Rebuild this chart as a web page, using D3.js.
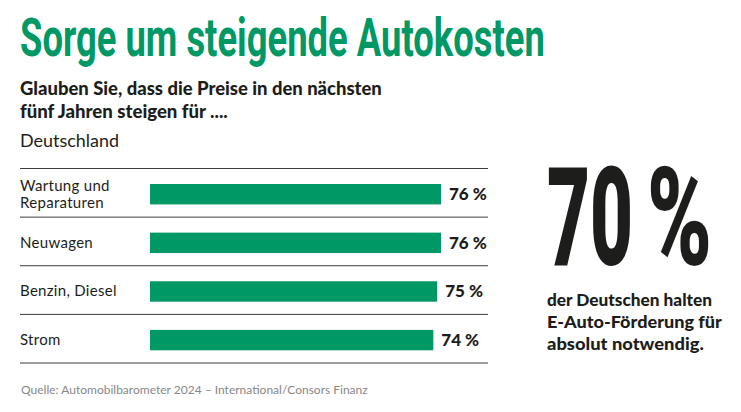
<!DOCTYPE html>
<html>
<head>
<meta charset="utf-8">
<script src="https://cdn.jsdelivr.net/npm/d3@7"></script>
<style>
  html, body { margin: 0; padding: 0; background: #fff; }
  svg { display: block; }
  text { font-family: Lato, "Noto Sans", sans-serif; fill: #1d1d1b; }
</style>
</head>
<body>
<div id="chart-area"></div>
<script>
// Daten
var categories = ["Wartung und|Reparaturen", "Neuwagen", "Benzin, Diesel", "Strom"];
var values = [76, 76, 75, 74];
var valueLabels = ["76 %", "76 %", "75 %", "74 %"];
var subtitleLines = ["Glauben Sie, dass die Preise in den nächsten", "fünf Jahren steigen für ...."];
var calloutLines = ["der Deutschen halten", "E-Auto-Förderung für", "absolut notwendig."];
var calloutWidths = [165, 175, 157];

var green = "#009864";
var condensed = "Roboto, 'Liberation Sans', sans-serif";
var width = 741, height = 412;

var svg = d3.select("#chart-area")
    .append("svg")
    .attr("width", width)
    .attr("height", height);

// Text auf Breite len stauchen, die schmale Originalschrift gibt es hier nicht
function label(x, y, str, size, weight, len, color, family) {
    var t = svg.append("text")
        .attr("font-size", size)
        .attr("font-weight", weight)
        .text(str);
    if (family) t.style("font-family", family);
    if (color) t.style("fill", color);
    var sx = len / t.node().getComputedTextLength();
    t.attr("transform", "translate(" + x + "," + y + ") scale(" + sx + ",1)");
    return t;
}

label(20, 56, "Sorge um steigende Autokosten", 53.5, 700, 525, green, condensed);

label(20, 95, subtitleLines[0], 18, 900, 362);
label(20, 118, subtitleLines[1], 18, 900, 208);
label(20, 147, "Deutschland", 18, 400, 99);

var x = d3.scaleLinear()
    .domain([0, 76])
    .range([150, 441]);

var y = d3.scaleBand()
    .domain(categories)
    .range([168.5, 363])
    .paddingInner(0.58)
    .paddingOuter(0.29)
    .align(0.55);

// Trennlinien oben und unter jeder Zeile
var lineY = d3.scaleLinear().domain([0, categories.length]).range([168.5, 363]);
svg.selectAll("line.sep")
    .data(d3.range(categories.length + 1))
    .enter()
    .append("line")
    .attr("class", "sep")
    .attr("x1", 20)
    .attr("x2", 488)
    .attr("y1", d => lineY(d))
    .attr("y2", d => lineY(d))
    .attr("stroke", "#3c3c3b")
    .attr("stroke-width", 1);

svg.selectAll("rect.bar")
    .data(categories)
    .enter()
    .append("rect")
    .attr("class", "bar")
    .attr("x", x(0))
    .attr("y", d => y(d))
    .attr("width", (d, i) => x(values[i]) - x(0))
    .attr("height", y.bandwidth())
    .attr("fill", green);

svg.selectAll("text.val")
    .data(categories)
    .enter()
    .append("text")
    .attr("class", "val")
    .attr("x", (d, i) => x(values[i]) + 8)
    .attr("y", d => y(d) + y.bandwidth() / 2 + 6)
    .attr("font-size", 17)
    .attr("font-weight", 900)
    .text((d, i) => valueLabels[i]);

// Kategorien, mit | umbrochen
svg.selectAll("text.cat")
    .data(categories)
    .enter()
    .append("text")
    .attr("class", "cat")
    .attr("font-size", 15)
    .attr("letter-spacing", 0.3)
    .each(function(d) {
        var parts = d.split("|");
        var mid = y(d) + y.bandwidth() / 2;
        d3.select(this).selectAll("tspan")
            .data(parts)
            .enter()
            .append("tspan")
            .attr("x", 20)
            .attr("y", (p, i) => mid + 5 + (i - (parts.length - 1) / 2) * 17)
            .text(p => p);
    });

// grosse Zahl rechts
label(547, 265, "70", 138, 900, 86, null, condensed);
label(647, 265, "%", 138, 900, 65, null, condensed);

calloutLines.forEach(function(line, i) {
    label(547, 306 + i * 22, line, 17, 900, calloutWidths[i]);
});

label(21, 394, "Quelle: Automobilbarometer 2024 – International/Consors Finanz", 12, 400, 347, "#878787");
</script>
</body>
</html>
